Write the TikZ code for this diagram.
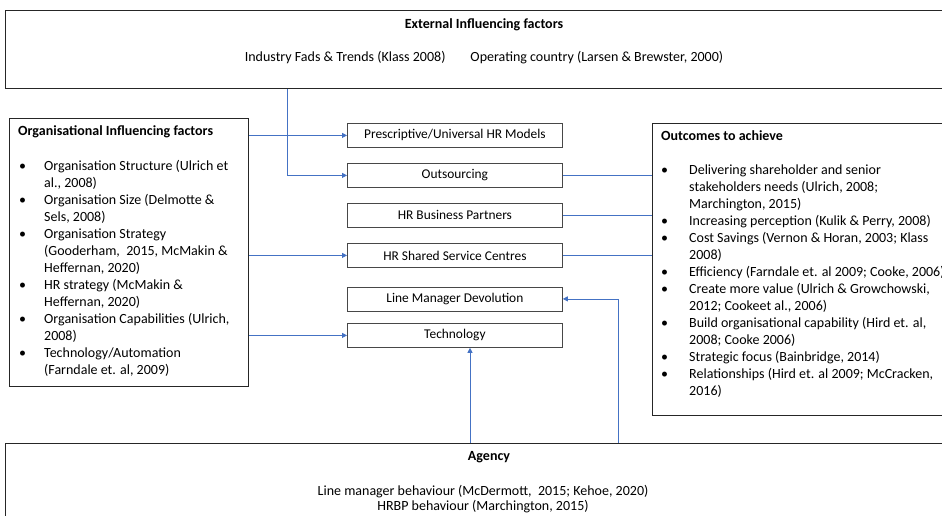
\documentclass[tikz,border=0pt]{standalone}
\usepackage{fontspec}
\setmainfont{Carlito}
\usetikzlibrary{arrows.meta}
\definecolor{linkblue}{HTML}{4472C4}
\definecolor{edgegray}{HTML}{262626}
\newcommand{\bitem}{\makebox[25pt][l]{\textbullet}}
\newcommand{\bcont}{\hspace*{25pt}}
\newcommand{\ritem}{\makebox[28pt][l]{\textbullet}}
\newcommand{\rcont}{\hspace*{28pt}}
\begin{document}
\begin{tikzpicture}[x=1pt,y=-1pt,
 box/.style={draw=edgegray, line width=0.9pt, rectangle, inner sep=0pt, anchor=north west},
 midbox/.style={draw=edgegray!85, line width=0.8pt, rectangle, minimum width=215pt, minimum height=24pt, inner sep=0pt, anchor=north west, font=\fontsize{13.4}{15}\selectfont},
 txt/.style={inner sep=0pt, font=\fontsize{14}{16}\selectfont},
 ttl/.style={inner sep=0pt, font=\bfseries\fontsize{14}{16}\selectfont},
 lst/.style={inner sep=0pt, anchor=north west, align=left, font=\fontsize{14}{17}\selectfont},
 link/.style={draw=linkblue, line width=0.8pt},
 arr/.style={link, -{Triangle[length=5pt,width=5pt]}},
]
\useasboundingbox (0,0) rectangle (942,516);
\clip (0,0) rectangle (942,516);
\fill[white] (0,0) rectangle (942,516);

% boxes
\node[box, minimum width=955pt, minimum height=78pt] (ext) at (5,10) {};
\node[box, minimum width=239pt, minimum height=268pt] (org) at (9,118) {};
\node[box, minimum width=310pt, minimum height=292pt] (out) at (652,123) {};
\node[box, minimum width=955pt, minimum height=90pt] (agency) at (5,443) {};

% middle boxes
\node[midbox] (pres) at (347,123) {Prescriptive/Universal HR Models};
\node[midbox] (outs) at (347,163) {Outsourcing};
\node[midbox] (hrbp) at (347,203) {HR Business Partners};
\node[midbox] (ssc)  at (347,243) {HR Shared Service Centres};
\node[midbox] (lmd)  at (347,286.5) {Line Manager Devolution};
\node[midbox] (tech) at (347,323) {Technology};

% texts
\node[ttl] (exttitle) at (484,25) {External Influencing factors};
\node[txt] (extline) at (484,58) {Industry Fads \& Trends (Klass 2008)\hspace{25pt}Operating country (Larsen \& Brewster, 2000)};

\node[ttl, anchor=west] (orgtitle) at (18,132) {Organisational Influencing factors};
\node[lst] (orglist) at (19,160) {%
\bitem Organisation Structure (Ulrich et\\
\bcont al., 2008)\\
\bitem Organisation Size (Delmotte \&\\
\bcont Sels, 2008)\\
\bitem Organisation Strategy\\
\bcont (Gooderham,\ \ 2015, McMakin \&\\
\bcont Heffernan, 2020)\\
\bitem HR strategy (McMakin \&\\
\bcont Heffernan, 2020)\\
\bitem Organisation Capabilities (Ulrich,\\
\bcont 2008)\\
\bitem Technology/Automation\\
\bcont (Farndale et. al, 2009)};

\node[ttl, anchor=west] (outtitle) at (661,136) {Outcomes to achieve};
\node[lst] (outlist) at (661,165) {%
\ritem Delivering shareholder and senior\\
\rcont stakeholders needs (Ulrich, 2008;\\
\rcont Marchington, 2015)\\
\ritem Increasing perception (Kulik \& Perry, 2008)\\
\ritem Cost Savings (Vernon \& Horan, 2003; Klass\\
\rcont 2008)\\
\ritem Efficiency (Farndale et. al 2009; Cooke, 2006)\\
\ritem Create more value (Ulrich \& Growchowski,\\
\rcont 2012; Cookeet al., 2006)\\
\ritem Build organisational capability (Hird et. al,\\
\rcont 2008; Cooke 2006)\\
\ritem Strategic focus (Bainbridge, 2014)\\
\ritem Relationships (Hird et. al 2009; McCracken,\\
\rcont 2016)};

\node[ttl] (agtitle) at (489,457) {Agency};
\node[txt] (agline1) at (483,492) {Line manager behaviour (McDermott,\ \ 2015; Kehoe, 2020)};
\node[txt] (agline2) at (483,507) {HRBP behaviour (Marchington, 2015)};

% connectors
\coordinate (k1) at (287,0);
\coordinate (k3) at (470,0);
\coordinate (k4) at (618,0);
\draw[arr] (ext.south -| k1) |- (outs.west);
\draw[arr] (org.east |- pres.west) -- (pres.west);
\draw[arr] (org.east |- ssc.west) -- (ssc.west);
\draw[arr] (org.east |- tech.west) -- (tech.west);
\draw[link] (outs.east) -- (outs.east -| out.west);
\draw[link] (hrbp.east) -- (hrbp.east -| out.west);
\draw[link] (ssc.east) -- (ssc.east -| out.west);
\draw[arr] (agency.north -| k3) -- (tech.south -| k3);
\draw[arr] (agency.north -| k4) |- (lmd.east);
\end{tikzpicture}
\end{document}
